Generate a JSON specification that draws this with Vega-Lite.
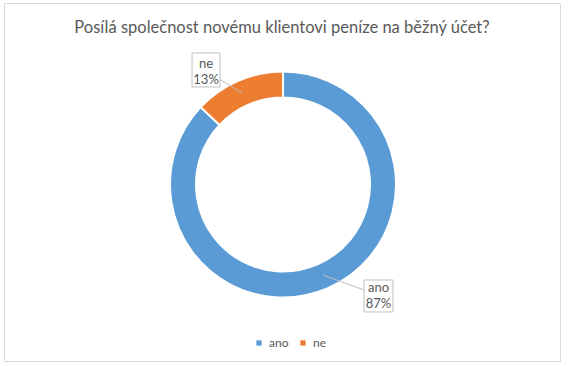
{
  "$schema": "https://vega.github.io/schema/vega-lite/v6.json",
  "width": 556,
  "height": 358,
  "autosize": "none",
  "padding": {"left": 4, "top": 3, "right": 10, "bottom": 5},
  "background": "white",
  "config": {
    "view": {"stroke": "#d9d9d9", "strokeWidth": 1},
    "font": "Lato",
    "text": {"font": "Lato"}
  },
  "title": {
    "text": "Posílá společnost novému klientovi peníze na běžný účet?",
    "font": "Lato",
    "fontSize": 16.5,
    "fontWeight": "normal",
    "color": "#595959",
    "anchor": "middle",
    "baseline": "alphabetic",
    "offset": -46
  },
  "data": {
    "values": [
      {"odpoved": "ano", "podil": 87},
      {"odpoved": "ne", "podil": 13}
    ]
  },
  "layer": [
    {
      "mark": {"type": "arc", "innerRadius": 87, "outerRadius": 113, "stroke": "white", "strokeWidth": 2},
      "encoding": {
        "x": {"datum": 0, "type": "quantitative", "scale": {"domain": [-2.469, 2.451], "nice": false, "zero": false}, "axis": null},
        "y": {"datum": 0, "type": "quantitative", "scale": {"domain": [-1.562, 1.606], "nice": false, "zero": false}, "axis": null},
        "theta": {"field": "podil", "type": "quantitative", "stack": true},
        "color": {
          "field": "odpoved",
          "type": "nominal",
          "scale": {"domain": ["ano", "ne"], "range": ["#5b9bd5", "#ed7d31"]},
          "legend": {
            "title": null,
            "orient": "none",
            "direction": "horizontal",
            "legendX": 249,
            "legendY": 334,
            "symbolType": "square",
            "symbolSize": 28,
            "symbolStrokeWidth": 0,
            "labelFont": "Lato",
            "labelFontSize": 12,
            "labelColor": "#595959",
            "labelOffset": 4,
            "columnPadding": 8,
            "padding": 0
          }
        },
        "order": {"field": "odpoved", "sort": "ascending"}
      }
    },
    {
      "data": {"values": [{}]},
      "mark": {"type": "rule", "color": "#bfbfbf", "strokeWidth": 1},
      "encoding": {
        "x": {"datum": -0.566, "type": "quantitative"},
        "y": {"datum": 0.934, "type": "quantitative"},
        "x2": {"datum": -0.363},
        "y2": {"datum": 0.81}
      }
    },
    {
      "data": {"values": [{}]},
      "mark": {"type": "rule", "color": "#bfbfbf", "strokeWidth": 1},
      "encoding": {
        "x": {"datum": 0.354, "type": "quantitative"},
        "y": {"datum": -0.801, "type": "quantitative"},
        "x2": {"datum": 0.717},
        "y2": {"datum": -0.934}
      }
    },
    {
      "data": {"values": [{}]},
      "mark": {"type": "rect", "fill": "white", "stroke": "#bfbfbf", "strokeWidth": 1},
      "encoding": {
        "x": {"datum": -0.805, "type": "quantitative"},
        "x2": {"datum": -0.558},
        "y": {"datum": 1.164, "type": "quantitative"},
        "y2": {"datum": 0.863}
      }
    },
    {
      "data": {"values": [{}]},
      "mark": {"type": "rect", "fill": "white", "stroke": "#bfbfbf", "strokeWidth": 1},
      "encoding": {
        "x": {"datum": 0.717, "type": "quantitative"},
        "x2": {"datum": 0.973},
        "y": {"datum": -0.845, "type": "quantitative"},
        "y2": {"datum": -1.128}
      }
    },
    {
      "data": {"values": [{}]},
      "mark": {"type": "text", "font": "Lato", "fontSize": 13, "fontWeight": "normal", "color": "#595959", "align": "center", "baseline": "middle", "lineHeight": 16},
      "encoding": {
        "x": {"datum": -0.681, "type": "quantitative"},
        "y": {"datum": 1.07, "type": "quantitative"},
        "text": {"value": ["ne", "13%"]}
      }
    },
    {
      "data": {"values": [{}]},
      "mark": {"type": "text", "font": "Lato", "fontSize": 13, "fontWeight": "normal", "color": "#595959", "align": "center", "baseline": "middle", "lineHeight": 16},
      "encoding": {
        "x": {"datum": 0.845, "type": "quantitative"},
        "y": {"datum": -0.918, "type": "quantitative"},
        "text": {"value": ["ano", "87%"]}
      }
    }
  ]
}
